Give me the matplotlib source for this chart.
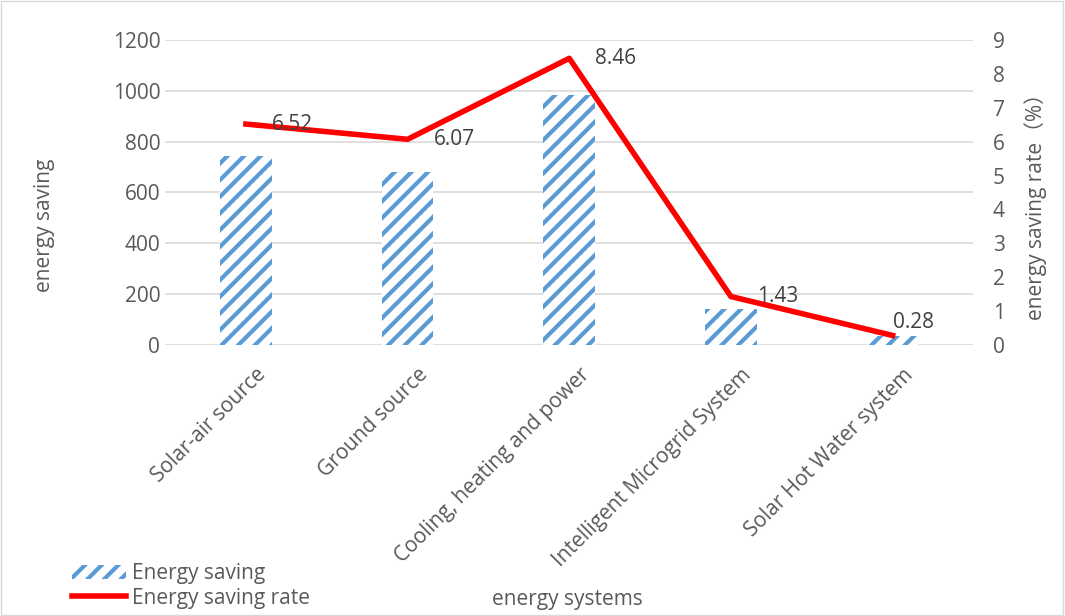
import matplotlib
matplotlib.use("Agg")
import matplotlib.pyplot as plt
from matplotlib.patches import Rectangle
from matplotlib.transforms import ScaledTranslation

plt.rcParams['font.family'] = ['Open Sans', 'Noto Sans CJK SC', 'DejaVu Sans']
plt.rcParams['hatch.linewidth'] = 3.0

systems = ['Solar-air source', 'Ground source', 'Cooling, heating and power',
           'Intelligent Microgrid System', 'Solar Hot Water system']
saving = [745, 680, 985, 140, 35]
rate = [6.52, 6.07, 8.46, 1.43, 0.28]

grey = '#595959'
blue = '#5B9BD5'
fs = 15
fig = plt.figure(figsize=(10.65, 6.16), dpi=100)
ax = fig.add_axes([0.155, 0.44, 0.759, 0.495])
x = list(range(len(systems)))

ax.bar(x, saving, width=0.32, color='white', edgecolor=blue, linewidth=0,
       hatch='//', zorder=2)
ax.set_ylim(0, 1200)
ax.set_yticks(range(0, 1201, 200))
ax.set_xlim(-0.5, len(systems) - 0.5)
ax.grid(axis='y', color='#d9d9d9', linewidth=1.2, zorder=0)
for s in ax.spines.values():
    s.set_visible(False)
ax.tick_params(length=0, colors=grey, labelsize=fs)
ax.tick_params(axis='x', pad=14)
ax.set_xticks(x)
ax.set_xticklabels(systems, rotation=45, ha='right', rotation_mode='anchor', color=grey)
shift = ScaledTranslation(0.1, 0, fig.dpi_scale_trans)
for lab in ax.get_xticklabels():
    lab.set_transform(lab.get_transform() + shift)
ax.set_ylabel('energy saving', color=grey, fontsize=fs)
ax.yaxis.set_label_coords(-0.136, 0.393)

ax2 = ax.twinx()
ax2.plot(x, rate, color='#FF0000', linewidth=4, zorder=3)
ax2.set_ylim(0, 9)
ax2.set_yticks(range(10))
for s in ax2.spines.values():
    s.set_visible(False)
ax2.tick_params(length=0, colors=grey, labelsize=fs, pad=14)
ax2.set_ylabel('energy saving rate（%）', color=grey, fontsize=fs)
ax2.yaxis.set_label_coords(1.063, 0.47)
offsets = [(26, 0), (26, 0), (26, 0), (26, 0), (0, 13)]
for xi, r, off in zip(x, rate, offsets):
    ax2.annotate(f'{r:.2f}', (xi, r), xytext=off, textcoords='offset pixels',
                 ha='left', va='center', fontsize=fs, color='#404040')

# legend handles
bar_h = Rectangle((0, 0), 1, 1, facecolor='white', edgecolor=blue, linewidth=0, hatch='//')
line_h, = ax2.plot([], [], color='#FF0000', linewidth=4)
fig.legend([bar_h, line_h], ['Energy saving', 'Energy saving rate'],
           loc='center left', bbox_to_anchor=(0.0676, 0.0487), frameon=False,
           fontsize=fs, labelcolor=grey, handlelength=2.6, handletextpad=0.3,
           labelspacing=0.15, borderpad=0, borderaxespad=0)
fig.text(0.533, 0.026, 'energy systems', ha='center', va='center', color=grey, fontsize=fs)

fig.patches.append(Rectangle((0.001, 0.001), 0.997, 0.997, transform=fig.transFigure,
                             fill=False, edgecolor='#d9d9d9', linewidth=1))
fig.savefig('out.png', dpi=100)
